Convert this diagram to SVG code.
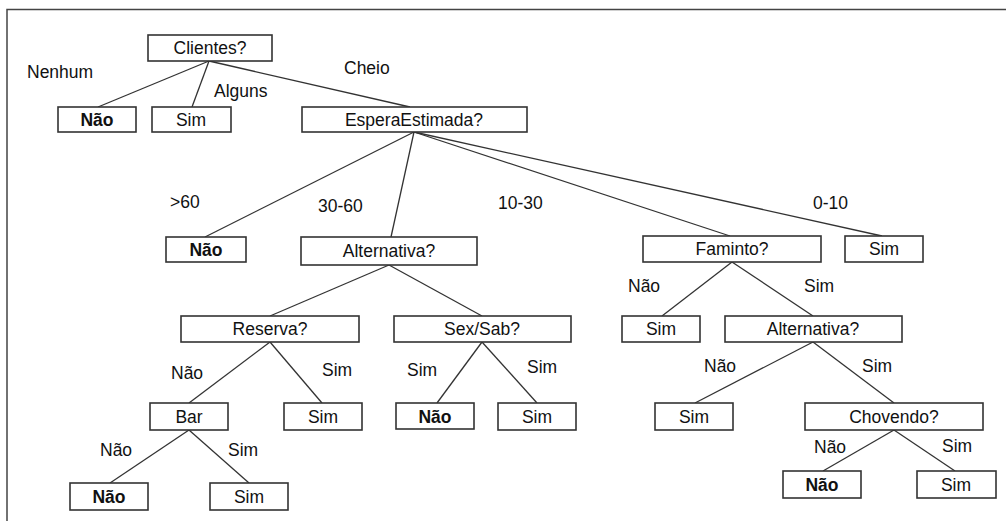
<svg xmlns="http://www.w3.org/2000/svg" width="1006" height="521" viewBox="0 0 1006 521">
<style>
.n rect{fill:#fff;stroke:#333;stroke-width:1.6}
text{font-family:"Liberation Sans",Arial,sans-serif;font-size:17.5px;fill:#111}
.n text{text-anchor:middle}
.b{font-weight:bold}
#edges line{stroke:#333;stroke-width:1.3}
</style>
<rect width="1006" height="521" fill="#fff"/>
<g id="frame" stroke="#444" stroke-width="1.5" fill="none">
<polyline points="7,521 7,9.5 1006,9.5"/>
</g>
<g id="edges">
<line x1="209" y1="61" x2="98" y2="107"/>
<line x1="209" y1="61" x2="192" y2="107"/>
<line x1="209" y1="61" x2="410" y2="107"/>
<line x1="414" y1="132" x2="205" y2="237"/>
<line x1="414" y1="132" x2="391" y2="237"/>
<line x1="414" y1="132" x2="730" y2="236"/>
<line x1="414" y1="132" x2="882" y2="236"/>
<line x1="389" y1="265" x2="270" y2="316"/>
<line x1="389" y1="265" x2="482" y2="316"/>
<line x1="270" y1="342" x2="189" y2="403"/>
<line x1="270" y1="342" x2="322" y2="403"/>
<line x1="482" y1="342" x2="437" y2="403"/>
<line x1="482" y1="342" x2="537" y2="403"/>
<line x1="189" y1="430" x2="110" y2="483"/>
<line x1="189" y1="430" x2="249" y2="483"/>
<line x1="732" y1="262" x2="662" y2="316"/>
<line x1="732" y1="262" x2="813" y2="316"/>
<line x1="813" y1="342" x2="695" y2="403"/>
<line x1="813" y1="342" x2="894" y2="403"/>
<line x1="894" y1="430" x2="823" y2="471"/>
<line x1="894" y1="430" x2="955" y2="471"/>
</g>
<g id="edge-labels">
<text x="27" y="78">Nenhum</text>
<text x="214" y="97">Alguns</text>
<text x="344" y="74">Cheio</text>
<text x="170" y="208">&gt;60</text>
<text x="318" y="212">30-60</text>
<text x="498" y="209">10-30</text>
<text x="813" y="209">0-10</text>
<text x="628" y="292">Não</text>
<text x="804" y="292">Sim</text>
<text x="171" y="379">Não</text>
<text x="322" y="376">Sim</text>
<text x="407" y="376">Sim</text>
<text x="527" y="373">Sim</text>
<text x="704" y="372">Não</text>
<text x="862" y="372">Sim</text>
<text x="100" y="456">Não</text>
<text x="228" y="456">Sim</text>
<text x="814" y="453">Não</text>
<text x="942" y="452">Sim</text>
</g>
<g id="clientes" class="n"><rect x="148" y="35" width="124" height="26"/><text x="210" y="54">Clientes?</text></g>
<g id="nao1" class="n"><rect x="58" y="107" width="78" height="25"/><text class="b" x="97" y="126">Não</text></g>
<g id="sim1" class="n"><rect x="152" y="107" width="79" height="25"/><text x="191" y="126">Sim</text></g>
<g id="espera" class="n"><rect x="302" y="107" width="225" height="25"/><text x="414" y="126">EsperaEstimada?</text></g>
<g id="nao2" class="n"><rect x="166" y="237" width="80" height="25"/><text class="b" x="206" y="256">Não</text></g>
<g id="alternativa1" class="n"><rect x="301" y="237" width="176" height="28"/><text x="389" y="257">Alternativa?</text></g>
<g id="faminto" class="n"><rect x="643" y="236" width="178" height="26"/><text x="732" y="255">Faminto?</text></g>
<g id="sim2" class="n"><rect x="845" y="236" width="78" height="26"/><text x="884" y="255">Sim</text></g>
<g id="reserva" class="n"><rect x="181" y="316" width="178" height="26"/><text x="270" y="335">Reserva?</text></g>
<g id="sexsab" class="n"><rect x="394" y="316" width="177" height="26"/><text x="482" y="335">Sex/Sab?</text></g>
<g id="sim3" class="n"><rect x="622" y="316" width="78" height="26"/><text x="661" y="335">Sim</text></g>
<g id="alternativa2" class="n"><rect x="725" y="316" width="177" height="26"/><text x="813" y="335">Alternativa?</text></g>
<g id="bar" class="n"><rect x="150" y="403" width="78" height="27"/><text x="189" y="423">Bar</text></g>
<g id="sim4" class="n"><rect x="284" y="403" width="78" height="27"/><text x="323" y="423">Sim</text></g>
<g id="nao3" class="n"><rect x="396" y="403" width="78" height="26"/><text class="b" x="435" y="423">Não</text></g>
<g id="sim5" class="n"><rect x="498" y="403" width="78" height="27"/><text x="537" y="423">Sim</text></g>
<g id="sim6" class="n"><rect x="655" y="403" width="78" height="27"/><text x="694" y="423">Sim</text></g>
<g id="chovendo" class="n"><rect x="805" y="403" width="178" height="27"/><text x="894" y="423">Chovendo?</text></g>
<g id="nao4" class="n"><rect x="70" y="483" width="78" height="27"/><text class="b" x="109" y="503">Não</text></g>
<g id="sim7" class="n"><rect x="210" y="483" width="78" height="27"/><text x="249" y="503">Sim</text></g>
<g id="nao5" class="n"><rect x="783" y="471" width="78" height="27"/><text class="b" x="822" y="491">Não</text></g>
<g id="sim8" class="n"><rect x="917" y="471" width="79" height="27"/><text x="956" y="491">Sim</text></g>
</svg>
